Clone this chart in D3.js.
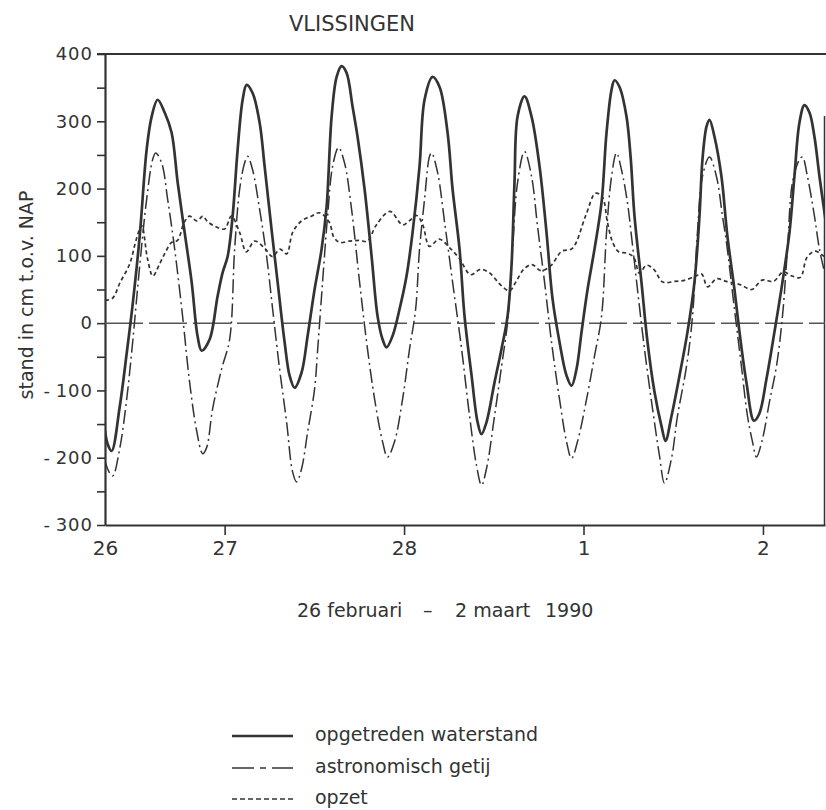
<!DOCTYPE html>
<html>
<head>
<meta charset="utf-8">
<script src="https://cdn.jsdelivr.net/npm/d3@7"></script>
<style>
    body { margin: 0; background: #ffffff; }
    text { font-family: "DejaVu Sans", sans-serif; fill: #333333; }
</style>
</head>
<body>
<div id="visual"></div>
<script>
// time in hours after 26 februari 1990 00:00, values in cm t.o.v. NAP
const observedHours = [7.96, 8.36, 8.89, 9.96, 10.90, 11.70, 12.64, 13.57, 14.24, 15.04, 15.98, 16.91, 17.72, 18.65, 19.59, 20.39, 20.93, 22.00, 23.06, 23.73, 24.40, 25.07, 25.74, 26.41, 26.94, 27.74, 28.68, 29.35, 30.28, 31.09, 32.02, 32.69, 33.36, 34.30, 35.10, 36.03, 36.97, 37.64, 38.31, 38.98, 39.64, 40.31, 41.11, 41.78, 42.72, 43.66, 44.46, 45.12, 45.66, 46.46, 47.40, 48.33, 49.14, 50.07, 50.74, 51.81, 52.75, 53.82, 54.49, 55.42, 56.09, 57.03, 57.83, 58.36, 59.03, 60.10, 61.04, 61.84, 62.37, 62.77, 63.18, 64.11, 65.05, 66.12, 67.05, 67.86, 68.79, 69.73, 70.40, 71.07, 71.74, 72.54, 73.47, 74.41, 75.08, 75.75, 76.15, 76.82, 77.75, 78.30, 78.82, 79.75, 80.56, 81.49, 82.43, 82.97, 83.77, 84.84, 85.91, 86.84, 87.51, 87.91, 88.45, 88.85, 89.52, 90.45, 91.25, 92.19, 92.86, 93.79, 94.80, 95.50, 96.47, 97.54, 98.61, 99.55, 100.21, 100.88, 101.55, 102.22, 102.89, 103.56, 104.36];
const observedValues = [-157, -180, -190, -125, -45, 28, 129, 258, 307, 332, 313, 283, 209, 135, 61, -20, -41, -24, 40, 75, 99, 159, 258, 332, 354, 342, 298, 233, 139, 61, -28, -78, -96, -73, -19, 50, 110, 173, 307, 366, 382, 372, 322, 277, 199, 99, 10, -24, -36, -19, 21, 70, 135, 233, 332, 366, 351, 283, 199, 110, 10, -78, -147, -165, -147, -88, -38, 10, 85, 209, 307, 337, 307, 233, 135, 36, -28, -78, -93, -68, -13, 50, 110, 179, 283, 347, 361, 351, 307, 247, 159, 61, -28, -102, -153, -175, -138, -78, -13, 61, 159, 243, 292, 302, 277, 218, 129, 50, -13, -88, -145, -135, -83, -13, 61, 135, 218, 298, 324, 313, 277, 218, 154];

const astroHours = [7.96, 8.49, 9.03, 9.96, 10.90, 11.70, 12.64, 13.57, 14.37, 14.78, 15.58, 16.38, 17.32, 18.38, 19.32, 20.26, 21.06, 21.59, 22.40, 23.60, 24.67, 25.34, 26.01, 26.67, 27.08, 27.74, 28.68, 29.62, 30.42, 31.35, 32.29, 33.09, 33.63, 34.30, 35.10, 36.03, 36.44, 37.10, 37.77, 38.44, 39.24, 40.04, 40.98, 42.05, 42.99, 44.06, 45.12, 45.79, 46.73, 47.80, 48.74, 49.54, 50.07, 50.74, 51.41, 51.68, 52.48, 53.42, 54.49, 55.69, 56.76, 57.70, 58.36, 59.03, 60.10, 61.04, 61.84, 62.51, 63.18, 64.11, 65.05, 65.85, 66.79, 67.72, 68.79, 69.73, 70.40, 71.20, 72.41, 73.47, 74.41, 75.08, 75.75, 76.41, 77.08, 77.88, 78.42, 79.22, 80.15, 81.23, 82.16, 82.83, 83.77, 84.57, 85.78, 86.58, 87.24, 87.91, 88.85, 89.78, 90.59, 91.12, 92.19, 93.12, 93.93, 94.60, 95.13, 95.94, 96.87, 97.81, 98.61, 99.28, 99.95, 100.88, 101.28, 101.95, 102.89, 103.56, 104.36];
const astroValues = [-203, -220, -227, -187, -113, -28, 85, 184, 243, 253, 238, 184, 110, 10, -88, -160, -194, -185, -127, -68, -24, 110, 199, 238, 248, 228, 169, 99, 21, -68, -147, -221, -236, -216, -162, -98, -40, 61, 159, 233, 261, 238, 169, 61, -28, -113, -176, -199, -176, -113, -38, 20, 110, 184, 248, 253, 224, 150, 61, -38, -138, -212, -241, -216, -138, -64, 1, 110, 209, 255, 218, 144, 61, -28, -113, -176, -201, -176, -113, -49, 10, 135, 218, 253, 228, 179, 129, 50, -38, -127, -197, -238, -201, -138, -64, 10, 135, 218, 247, 218, 159, 120, 21, -64, -138, -176, -199, -172, -117, -64, 10, 110, 209, 243, 247, 218, 159, 110, 70];

const surgeHours = [8.0, 9.0, 10.0, 11.3, 12.2, 12.9, 13.7, 14.4, 15.3, 16.2, 16.9, 17.7, 18.6, 19.3, 20.3, 21.1, 21.7, 22.7, 24.0, 24.9, 26.0, 26.9, 28.0, 29.3, 30.4, 31.4, 32.3, 33.1, 34.3, 35.6, 36.7, 38.0, 38.6, 39.4, 40.7, 42.0, 43.1, 44.3, 46.1, 47.8, 48.7, 49.7, 50.5, 51.4, 52.7, 54.1, 55.4, 56.9, 58.2, 59.4, 60.9, 62.1, 63.0, 64.0, 65.1, 66.3, 67.6, 69.1, 70.5, 72.3, 73.6, 74.5, 75.2, 75.9, 76.7, 77.8, 78.7, 79.5, 80.4, 81.4, 82.6, 84.2, 85.6, 87.0, 87.8, 88.6, 89.8, 91.1, 93.0, 94.5, 95.9, 97.4, 98.7, 99.9, 101.0, 101.9, 103.0, 104.4];
const surgeValues = [34, 37, 60, 88, 125, 145, 95, 70, 88, 108, 120, 123, 150, 159, 152, 159, 151, 144, 140, 159, 135, 106, 122, 112, 99, 110, 103, 135, 152, 159, 164, 150, 128, 120, 122, 123, 122, 146, 166, 146, 152, 160, 146, 114, 125, 112, 96, 72, 80, 75, 57, 48, 62, 80, 87, 78, 85, 107, 111, 160, 193, 188, 150, 120, 106, 104, 98, 74, 86, 80, 61, 62, 64, 70, 73, 54, 66, 62, 57, 50, 64, 62, 76, 70, 68, 98, 107, 97];

const dayTickHours = [8, 24, 48, 72, 96];
const dayLabels = ["26", "27", "28", "1", "2"];
const yMinorTicks = [-300, -250, -200, -150, -100, -50, 0, 50, 100, 150, 200, 250, 300, 350, 400];
const yLabelTicks = [-300, -200, -100, 0, 100, 200, 300, 400];
const legendLabels = ["opgetreden waterstand", "astronomisch getij", "opzet"];

function tideChart() {
    const W = 826, H = 810;
    // set the dimensions and margins of the graph
    let margin = {top: 54, right: 1, bottom: 285, left: 105},
    width = W - margin.left - margin.right,
    height = H - margin.top - margin.bottom;

    const INK = "#333333";
    const base = new Date(1990, 1, 26);
    const toDate = h => new Date(base.getTime() + h * 3600000);

    let chart = function chart(selector) {
        let svg = d3.select(selector)
            .append("svg")
            .attr("width", W)
            .attr("height", H);

        let g = svg.append("g")
            .attr("transform", "translate(" + margin.left + "," + margin.top + ")");

        let x = d3.scaleTime()
            .domain([toDate(8), toDate(104.3)])
            .range([0, width]);

        let y = d3.scaleLinear()
            .domain([-300, 400])
            .range([height, 0]);

        // y axis with minor ticks every 50
        let yAxis = g.append("g")
            .call(d3.axisLeft(y)
                .tickValues(yMinorTicks)
                .tickSize(8)
                .tickSizeOuter(0)
                .tickPadding(4)
                .tickFormat(d => yLabelTicks.includes(d) ? (d < 0 ? "-\u2009" + (-d) : String(d)) : ""));
        yAxis.selectAll("line").attr("stroke", INK).attr("stroke-width", 1.6);
        yAxis.select(".domain").attr("stroke", INK).attr("stroke-width", 2.2);
        yAxis.selectAll("text")
            .attr("font-family", "DejaVu Sans, sans-serif")
            .attr("font-size", 18)
            .attr("letter-spacing", "1px")
            .attr("fill", INK);

        // x axis, one label per day
        let xAxis = g.append("g")
            .attr("transform", "translate(0," + height + ")")
            .call(d3.axisBottom(x)
                .tickValues(dayTickHours.map(toDate))
                .tickSize(10)
                .tickSizeOuter(0)
                .tickPadding(6)
                .tickFormat((d, i) => dayLabels[i]));
        xAxis.select(".domain").attr("stroke", INK).attr("stroke-width", 2.2);
        xAxis.selectAll("line").attr("stroke", INK).attr("stroke-width", 1.6);
        xAxis.select(".tick line").remove();
        xAxis.selectAll("text")
            .attr("font-family", "DejaVu Sans, sans-serif")
            .attr("font-size", 20)
            .attr("fill", INK);

        // frame top and right
        g.append("line")
            .attr("x1", -8).attr("x2", width + 1)
            .attr("y1", 0).attr("y2", 0)
            .attr("stroke", INK).attr("stroke-width", 2);
        g.append("line")
            .attr("x1", width - 0.5).attr("x2", width - 0.5)
            .attr("y1", 62).attr("y2", height)
            .attr("stroke", INK).attr("stroke-width", 1.5);

        // zero line
        g.append("line")
            .attr("x1", 0).attr("x2", width)
            .attr("y1", y(0)).attr("y2", y(0))
            .attr("stroke", "#555555")
            .attr("stroke-width", 1.5)
            .attr("stroke-dasharray", "38,6");

        svg.append("clipPath").attr("id", "plot")
            .append("rect")
            .attr("x", 0).attr("y", 0)
            .attr("width", width).attr("height", height);

        let line = d3.line()
            .x(d => x(d.date))
            .y(d => y(d.value))
            .curve(d3.curveCatmullRom.alpha(0.5));

        const zip = (hs, vs) => hs.map((h, i) => ({date: toDate(h), value: vs[i]}));

        let series = [
            {data: zip(surgeHours, surgeValues), width: 1.7, dash: "4,3"},
            {data: zip(astroHours, astroValues), width: 1.5, dash: "14,4,2,4"},
            {data: zip(observedHours, observedValues), width: 2.7, dash: null}
        ];

        g.append("g")
            .attr("clip-path", "url(#plot)")
            .selectAll("path")
            .data(series)
            .enter()
            .append("path")
            .attr("d", d => line(d.data))
            .attr("fill", "none")
            .attr("stroke", INK)
            .attr("stroke-width", d => d.width)
            .attr("stroke-dasharray", d => d.dash)
            .attr("stroke-linejoin", "round");

        // title
        svg.append("text")
            .attr("x", 289)
            .attr("y", 31)
            .attr("font-size", 21)
            .text("VLISSINGEN");

        // y label
        svg.append("text")
            .attr("transform", "translate(33,295) rotate(-90)")
            .attr("text-anchor", "middle")
            .attr("font-size", 19)
            .text("stand in cm t.o.v. NAP");

        // period below the x axis
        let period = svg.append("text")
            .attr("y", 617)
            .attr("font-size", 19);
        period.append("tspan").attr("x", 297).text("26 februari");
        period.append("tspan").attr("x", 423).text("\u2013");
        period.append("tspan").attr("x", 455).text("2 maart");
        period.append("tspan").attr("x", 545).text("1990");

        // legend
        let legendRows = [736, 768, 799];
        let legendStyle = [
            {width: 2.7, dash: null},
            {width: 1.5, dash: "22,6,6,6"},
            {width: 1.5, dash: "5,3"}
        ];

        let legend = svg.selectAll(".legend")
            .data(legendLabels)
            .enter()
            .append("g")
            .attr("class", "legend")
            .attr("transform", (d, i) => "translate(0," + legendRows[i] + ")");

        legend.append("line")
            .attr("x1", 232).attr("x2", 293)
            .attr("y1", 0).attr("y2", 0)
            .attr("stroke", INK)
            .attr("stroke-width", (d, i) => legendStyle[i].width)
            .attr("stroke-dasharray", (d, i) => legendStyle[i].dash);

        legend.append("text")
            .attr("x", 315)
            .attr("y", 5)
            .attr("font-size", 19)
            .text(d => d);
    };

    return chart;
}

let myChart = tideChart();
myChart("#visual");
</script>
</body>
</html>
